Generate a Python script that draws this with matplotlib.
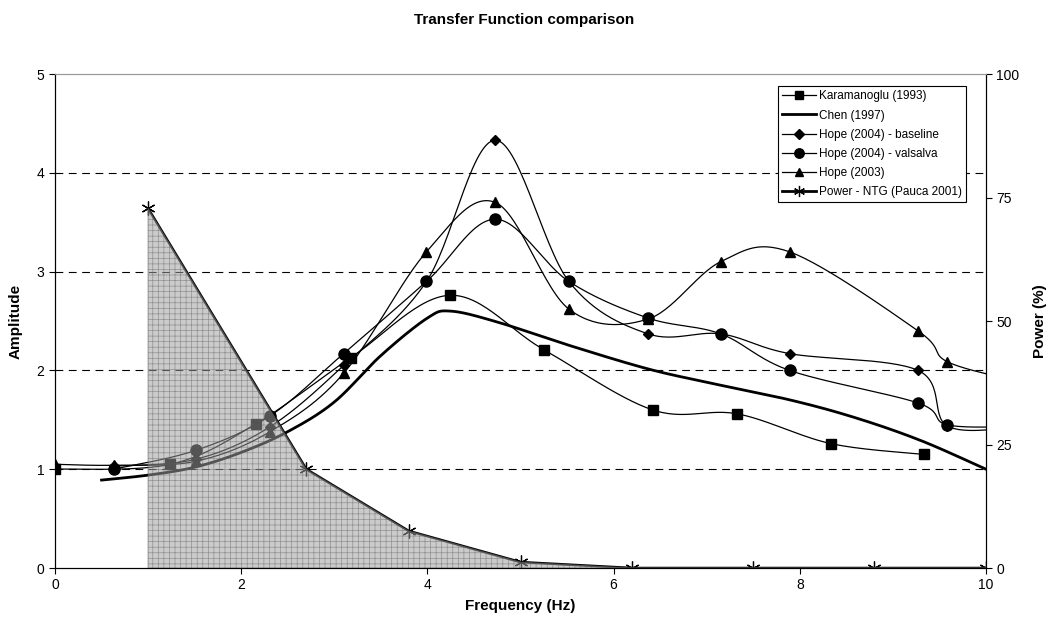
import numpy as np
import matplotlib
matplotlib.use("Agg")
import matplotlib.pyplot as plt
from matplotlib.lines import Line2D

plt.rcParams["font.family"] = ["Liberation Sans", "DejaVu Sans"]
plt.rcParams["hatch.linewidth"] = 0.5

# --- data (x in Hz) ---
kara_x = [0.0, 1.24, 2.16, 3.18, 4.24, 5.25, 6.42, 7.33, 8.33, 9.33]
kara_y = [1.00, 1.05, 1.46, 2.13, 2.76, 2.21, 1.60, 1.56, 1.26, 1.15]

chen_x = [0.5, 1.0, 1.5, 2.0, 2.5, 3.0, 3.5, 4.0, 4.25, 4.75, 5.5, 6.35, 7.0, 7.9, 8.6, 9.3, 10.0]
chen_y = [0.89, 0.94, 1.02, 1.17, 1.38, 1.68, 2.15, 2.53, 2.60, 2.49, 2.26, 2.02, 1.88, 1.70, 1.52, 1.29, 1.00]

base_x = [0.63, 1.51, 2.31, 3.10, 3.99, 4.73, 5.52, 6.37, 7.15, 7.89, 9.27, 9.58, 10.3]
base_y = [1.03, 1.10, 1.43, 2.05, 2.90, 4.33, 2.90, 2.37, 2.37, 2.17, 2.00, 1.44, 1.42]

vals_x = [0.63, 1.51, 2.31, 3.10, 3.99, 4.73, 5.52, 6.37, 7.15, 7.89, 9.27, 9.58, 10.3]
vals_y = [1.00, 1.19, 1.54, 2.17, 2.90, 3.53, 2.90, 2.53, 2.37, 2.00, 1.67, 1.45, 1.43]

h03_x = [0.0, 0.63, 1.51, 2.31, 3.10, 3.99, 4.73, 5.52, 6.37, 7.15, 7.89, 9.27, 9.58, 10.3]
h03_y = [1.05, 1.04, 1.08, 1.38, 1.97, 3.20, 3.70, 2.62, 2.52, 3.10, 3.20, 2.40, 2.09, 1.90]

power_x = [1.0, 2.7, 3.8, 5.0, 6.2, 7.5, 8.8, 10.0]
power_y = [72.8, 20.0, 7.5, 1.2, 0.0, 0.0, 0.0, 0.0]


def smooth(xs, ys, n=30):
    """Excel-like smoothed line (Catmull-Rom as cubic Bezier)."""
    p = np.column_stack([xs, ys]).astype(float)
    out = []
    for i in range(len(p) - 1):
        p0 = p[i - 1] if i > 0 else p[i]
        p3 = p[i + 2] if i + 2 < len(p) else p[i + 1]
        c1 = p[i] + (p[i + 1] - p0) / 6
        c2 = p[i + 1] - (p3 - p[i]) / 6
        t = np.linspace(0, 1, n, endpoint=False)[:, None]
        seg = ((1 - t) ** 3 * p[i] + 3 * (1 - t) ** 2 * t * c1
               + 3 * (1 - t) * t ** 2 * c2 + t ** 3 * p[i + 1])
        out.append(seg)
    out.append(p[-1:])
    c = np.vstack(out)
    return c[:, 0], c[:, 1], list(range(0, len(c), n))


fig = plt.figure(figsize=(10.48, 6.26), dpi=100)
ax = fig.add_axes([55 / 1048, 58 / 626, 931 / 1048, 494 / 626])

series = [
    (kara_x, kara_y, "s", 7, "Karamanoglu (1993)"),
    (base_x, base_y, "D", 5.5, "Hope (2004) - baseline"),
    (vals_x, vals_y, "o", 8, "Hope (2004) - valsalva"),
    (h03_x, h03_y, "^", 7.5, "Hope (2003)"),
]
handles = {}
for xs, ys, m, ms, lab in series:
    sx, sy, idx = smooth(xs, ys)
    ax.plot(sx, sy, color="black", lw=0.9, marker=m, ms=ms, markevery=idx,
            mfc="black", mec="black", zorder=3)
    handles[lab] = Line2D([], [], color="black", lw=0.9, marker=m, ms=ms * 0.85)

cx, cy, _ = smooth(chen_x, chen_y)
ax.plot(cx, cy, color="black", lw=2.0, zorder=3)
handles["Chen (1997)"] = Line2D([], [], color="black", lw=2.0)

ax.set_xlim(0, 10)
ax.set_ylim(0, 5)
ax.set_xticks([0, 2, 4, 6, 8, 10])
ax.set_yticks([0, 1, 2, 3, 4, 5])
for yv in [1, 2, 3, 4]:
    ax.axhline(yv, color="black", lw=0.8, ls=(0, (7, 5)), zorder=1)
ax.spines["top"].set_color("#999999")
ax.tick_params(labelsize=10, length=4, width=0.8)
ax.set_xlabel("Frequency (Hz)", fontsize=11, fontweight="bold", labelpad=5)
ax.set_ylabel("Amplitude", fontsize=11, fontweight="bold", labelpad=10)

ax2 = ax.twinx()
ax2.set_ylim(0, 100)
ax2.set_yticks([0, 25, 50, 75, 100])
ax2.tick_params(labelsize=10, length=4, width=0.8)
ax2.spines["top"].set_color("#999999")
ax2.set_ylabel("Power (%)", fontsize=11, fontweight="bold", labelpad=10)
ax2.fill_between(power_x, power_y, 0, facecolor="#9e9e9e", edgecolor="#5c5c5c",
                 hatch="+++", alpha=0.53, lw=0.8, zorder=2)
ax2.plot(power_x, power_y, color="black", lw=1.8, marker=(6, 2, 0), ms=10,
         mew=0.9, zorder=1)
handles["Power - NTG (Pauca 2001)"] = Line2D([], [], color="black", lw=2.0,
                                              marker=(6, 2, 0), ms=8, mew=0.9)

order = ["Karamanoglu (1993)", "Chen (1997)", "Hope (2004) - baseline",
         "Hope (2004) - valsalva", "Hope (2003)", "Power - NTG (Pauca 2001)"]
leg = ax2.legend([handles[k] for k in order], order, loc="upper right",
                 bbox_to_anchor=(0.9785, 0.975), fontsize=8.5, fancybox=False,
                 edgecolor="black", framealpha=1, handlelength=2.9,
                 borderpad=0.35, labelspacing=0.6, handletextpad=0.25,
                 borderaxespad=0.0)
leg.get_frame().set_linewidth(0.8)

fig.text(0.5, 1 - 20 / 626, "Transfer Function comparison", ha="center",
         va="center", fontsize=11, fontweight="bold")

fig.savefig("out.png", dpi=100)
